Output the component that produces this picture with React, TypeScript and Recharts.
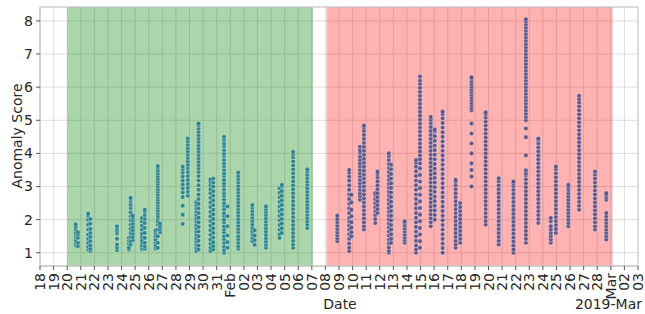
import React from 'react';
import { ScatterChart, Scatter, XAxis, YAxis, CartesianGrid, ReferenceArea } from 'recharts';

// ---------- data ----------
const tickLabels = ['18','19','20','21','22','23','24','25','26','27','28','29','30','31','Feb','02','03','04','05','06','07','08','09','10','11','12','13','14','15','16','17','18','19','20','21','22','23','24','25','26','27','28','Mar','02','03'];
const yTicks = [1, 2, 3, 4, 5, 6, 7, 8];

const normalRange = ['01-20 00', '02-07 02'];
const anomalyRange = ['02-08 02', '03-01 03'];

const normalTimes = [
  '01-20 15','01-20 19','01-21 13','01-21 17','01-23 16','01-24 13','01-24 16','01-24 20',
  '01-25 12','01-25 17','01-26 12','01-26 16','01-26 20','01-28 12','01-28 21','01-29 12',
  '01-29 16','01-30 13','01-30 18','01-31 13','01-31 19','02-01 14','02-02 15','02-02 19',
  '02-03 15','02-04 15','02-04 19','02-05 15','02-06 16',
];
const normalScores: number[][] = [
  [1.22,1.27,1.33,1.4,1.47,1.52,1.57,1.62,1.7,1.78,1.86],
  [1.2,1.3,1.45,1.55,1.62],
  [1.1,1.18,1.3,1.42,1.55,1.7,1.85,2.0,2.12,2.18],
  [1.05,1.12,1.22,1.35,1.48,1.6,1.72,1.88,2.02],
  [1.08,1.16,1.25,1.42,1.58,1.65,1.72,1.8],
  [1.1,1.16,1.28,1.37,1.45],
  [1.25,1.35,1.48,1.6,1.72,1.85,1.98,2.1,2.22,2.35,2.45,2.55,2.62,2.66],
  [1.38,1.48,1.58,1.68,1.78,1.88,1.98,2.06,2.12],
  [1.1,1.16,1.22,1.3,1.38,1.48,1.58,1.7,1.82,1.95,2.05],
  [1.12,1.2,1.3,1.45,1.6,1.75,1.9,2.02,2.14,2.24,2.3],
  [1.12,1.18,1.24,1.32,1.4,1.5,1.6,1.68],
  [1.15,1.3,1.5,1.7,1.85,1.95,2.05,2.12,2.2,2.28,2.36,2.44,2.52,2.6,2.68,2.76,2.84,2.92,3.0,3.08,3.16,3.24,3.32,3.4,3.48,3.56,3.62],
  [1.62,1.72,1.8,1.88],
  [1.87,2.15,2.42,2.68,2.82,2.94,3.06,3.18,3.3,3.42,3.52,3.6],
  [2.72,2.84,2.96,3.08,3.2,3.32,3.44,3.56,3.66,3.76,3.86,3.96,4.06,4.16,4.26,4.36,4.45],
  [1.05,1.14,1.24,1.34,1.44,1.54,1.64,1.74,1.84,1.94,2.04,2.14,2.24,2.34,2.44,2.52],
  [1.1,1.22,1.36,1.5,1.64,1.78,1.92,2.06,2.2,2.34,2.48,2.62,2.76,2.9,3.04,3.18,3.32,3.44,3.55,3.65,3.75,3.85,3.95,4.05,4.15,4.25,4.35,4.45,4.55,4.65,4.75,4.84,4.9],
  [1.05,1.15,1.27,1.4,1.54,1.68,1.82,1.96,2.1,2.24,2.38,2.52,2.66,2.8,2.92,3.04,3.14,3.22],
  [1.1,1.2,1.32,1.46,1.6,1.74,1.88,2.02,2.16,2.3,2.44,2.58,2.72,2.86,3.0,3.12,3.24],
  [1.0,1.08,1.18,1.3,1.41,1.5,1.62,1.71,1.8,1.92,2.0,2.12,2.2,2.31,2.42,2.5,2.61,2.72,2.8,2.9,3.02,3.1,3.2,3.32,3.4,3.5,3.61,3.7,3.8,3.92,4.0,4.1,4.22,4.3,4.41,4.5],
  [1.15,1.32,1.52,1.8,2.1,2.4],
  [1.12,1.2,1.3,1.41,1.5,1.62,1.72,1.82,1.92,2.02,2.12,2.22,2.32,2.42,2.52,2.62,2.72,2.82,2.92,3.02,3.12,3.22,3.32,3.42],
  [1.35,1.45,1.55,1.65,1.75,1.86,1.96,2.06,2.16,2.26,2.36,2.44],
  [1.24,1.38,1.52,1.68],
  [1.15,1.24,1.34,1.44,1.54,1.64,1.74,1.84,1.94,2.04,2.14,2.24,2.32,2.4],
  [1.45,1.56,1.7,1.84,1.98,2.12,2.26,2.4,2.54,2.68,2.82,2.95],
  [1.6,1.74,1.88,2.02,2.16,2.3,2.44,2.58,2.72,2.86,3.0,3.05],
  [1.15,1.25,1.36,1.48,1.6,1.72,1.84,1.96,2.08,2.2,2.32,2.44,2.56,2.68,2.8,2.92,3.04,3.16,3.28,3.4,3.52,3.64,3.76,3.88,3.98,4.05],
  [1.75,1.85,1.95,2.05,2.15,2.25,2.35,2.45,2.55,2.65,2.75,2.85,2.95,3.05,3.15,3.25,3.35,3.45,3.52],
];

const anomalyTimes = [
  '02-08 21','02-09 18','02-09 22','02-10 13','02-10 20','02-11 16','02-11 20','02-12 16',
  '02-12 20','02-13 20','02-14 16','02-14 23','02-15 18','02-16 01','02-16 15','02-17 14',
  '02-17 22','02-18 18','02-19 19','02-20 18','02-21 20','02-22 18','02-23 16','02-24 14',
  '02-24 23','02-25 21','02-26 16','02-27 20','02-28 16',
];
const anomalyScores: number[][] = [
  [1.35,1.44,1.53,1.62,1.72,1.82,1.92,2.02,2.12],
  [1.05,1.15,1.28,1.42,1.56,1.7,1.82,1.94,2.06,2.2,2.34,2.48,2.62,2.76,2.9,3.04,3.18,3.3,3.42,3.5],
  [1.5,1.62,1.76,1.92,2.1,2.3,2.52,2.75],
  [2.6,2.71,2.8,2.9,3.01,3.1,3.2,3.31,3.4,3.5,3.61,3.7,3.8,3.9,4.02,4.1,4.2],
  [1.7,1.8,1.92,2.04,2.16,2.28,2.4,2.52,2.64,2.76,2.88,3.0,3.12,3.24,3.36,3.48,3.6,3.72,3.84,3.96,4.08,4.2,4.32,4.44,4.56,4.68,4.78,4.84],
  [1.9,2.02,2.14,2.26,2.38,2.5,2.62,2.74,2.8],
  [2.2,2.32,2.44,2.56,2.68,2.8,2.92,3.04,3.16,3.28,3.38,3.45],
  [1.0,1.06,1.16,1.28,1.4,1.52,1.64,1.76,1.88,2.0,2.12,2.24,2.36,2.48,2.6,2.72,2.84,2.96,3.08,3.2,3.32,3.44,3.56,3.68,3.8,3.92,4.0],
  [1.3,1.42,1.56,1.7,1.84,1.98,2.12,2.26,2.4,2.54,2.68,2.82,2.96,3.1,3.24,3.38,3.52,3.66],
  [1.3,1.38,1.46,1.55,1.64,1.73,1.82,1.9,1.95],
  [1.0,1.1,1.22,1.36,1.5,1.64,1.78,1.92,2.06,2.2,2.34,2.48,2.62,2.76,2.9,3.04,3.18,3.32,3.46,3.6,3.72,3.8],
  [1.15,1.35,1.55,1.75,1.95,2.15,2.35,2.55,2.75,2.95,3.15,3.35,3.55,3.7,3.82,3.94,4.06,4.18,4.3,4.42,4.54,4.66,4.78,4.9,5.02,5.14,5.26,5.38,5.5,5.62,5.74,5.86,5.98,6.1,6.2,6.32],
  [1.8,1.92,2.04,2.16,2.28,2.4,2.52,2.64,2.76,2.88,3.0,3.12,3.24,3.36,3.48,3.6,3.72,3.84,3.96,4.08,4.2,4.32,4.44,4.56,4.68,4.8,4.92,5.02,5.1],
  [2.0,2.14,2.28,2.42,2.56,2.7,2.84,2.98,3.12,3.26,3.4,3.54,3.68,3.82,3.96,4.1,4.24,4.38,4.52,4.66,4.72],
  [1.0,1.14,1.28,1.42,1.56,1.7,1.84,1.98,2.12,2.26,2.4,2.54,2.68,2.82,2.96,3.1,3.24,3.38,3.52,3.66,3.8,3.94,4.08,4.22,4.36,4.5,4.64,4.78,4.92,5.06,5.18,5.26],
  [1.15,1.25,1.36,1.48,1.6,1.72,1.84,1.96,2.08,2.2,2.32,2.44,2.56,2.68,2.8,2.92,3.04,3.14,3.2],
  [1.3,1.42,1.54,1.66,1.78,1.9,2.02,2.14,2.26,2.38,2.5],
  [3.0,3.3,3.5,3.7,4.0,4.3,4.6,4.9,5.3,5.38,5.46,5.54,5.62,5.7,5.78,5.86,5.94,6.02,6.1,6.18,6.26,6.3],
  [1.85,1.96,2.08,2.2,2.32,2.44,2.56,2.68,2.8,2.92,3.04,3.16,3.28,3.4,3.52,3.64,3.76,3.88,4.0,4.12,4.24,4.36,4.48,4.6,4.72,4.84,4.96,5.08,5.18,5.24],
  [1.25,1.36,1.48,1.6,1.72,1.84,1.96,2.08,2.2,2.32,2.44,2.56,2.68,2.8,2.92,3.04,3.16,3.25],
  [1.0,1.1,1.22,1.34,1.46,1.58,1.7,1.82,1.94,2.06,2.18,2.3,2.42,2.54,2.66,2.78,2.9,3.02,3.1,3.15],
  [1.3,1.42,1.54,1.66,1.78,1.9,2.02,2.14,2.26,2.38,2.5,2.62,2.74,2.86,2.98,3.1,3.22,3.34,3.4,3.49,3.94,4.49,4.75,5.0,5.1,5.2,5.3,5.4,5.5,5.6,5.7,5.8,5.9,6.0,6.1,6.2,6.3,6.4,6.5,6.6,6.7,6.8,6.9,7.0,7.1,7.2,7.3,7.4,7.5,7.6,7.7,7.8,7.9,7.98,8.05],
  [1.9,2.02,2.14,2.26,2.38,2.5,2.62,2.74,2.86,2.98,3.1,3.22,3.34,3.46,3.58,3.7,3.82,3.94,4.06,4.18,4.3,4.4,4.45],
  [1.3,1.4,1.5,1.6,1.7,1.8,1.95,2.05],
  [1.6,1.72,1.84,1.96,2.08,2.2,2.32,2.44,2.56,2.68,2.8,2.92,3.04,3.16,3.28,3.4,3.52,3.6],
  [1.8,1.9,2.0,2.1,2.2,2.3,2.4,2.5,2.6,2.7,2.8,2.9,2.98,3.05],
  [2.3,2.42,2.54,2.66,2.78,2.9,3.02,3.14,3.26,3.38,3.5,3.62,3.74,3.86,3.98,4.1,4.22,4.34,4.46,4.58,4.7,4.82,4.94,5.06,5.18,5.3,5.42,5.54,5.64,5.74],
  [1.7,1.8,1.92,2.04,2.16,2.28,2.4,2.52,2.64,2.76,2.88,3.0,3.12,3.24,3.36,3.45],
  [1.4,1.5,1.6,1.7,1.8,1.9,2.0,2.1,2.2,2.6,2.68,2.75,2.8],
];

// ---------- helpers ----------
const parseTime = (s: string) => {
  const [md, h] = s.split(' ');
  const [m, d] = md.split('-').map(Number);
  return Date.UTC(2019, m - 1, d, Number(h));
};
const DAY = 86400000;
const startTime = Date.UTC(2019, 0, 18);
const endTime = Date.UTC(2019, 2, 3);
const tickTimes = tickLabels.map((_, i) => startTime + i * DAY);
const labelByTime = new Map(tickTimes.map((tt, i) => [tt, tickLabels[i]]));

const build = (times: string[], scores: number[][]) =>
  times.flatMap((tm, i) => scores[i].map((v) => ({ x: parseTime(tm), y: v })));

const normalData = build(normalTimes, normalScores);
const anomalyData = build(anomalyTimes, anomalyScores);

const FONT = 'DejaVu Sans, sans-serif';
const TEXT = '#262626';

const RotTick = (props: any) => {
  const { x, y, payload } = props;
  const label = labelByTime.get(payload.value) ?? '';
  return (
    <text
      transform={`translate(${x},${y + 1}) rotate(-90)`}
      textAnchor="end"
      dominantBaseline="central"
      fontSize={14}
      fontFamily={FONT}
      fill={TEXT}
    >
      {label}
    </text>
  );
};

const makeDot = (color: string) => (p: any) => (
  <circle cx={p.cx} cy={p.cy} r={2.3} fill={color} fillOpacity={0.88} stroke="#ffffff" strokeOpacity={0.6} strokeWidth={0.6} />
);

export default function App() {
  return (
    <div style={{ position: 'fixed', left: 0, top: 0, width: 645, height: 314, background: '#fff' }}>
      <ScatterChart width={645} height={314} margin={{ top: 7, right: 7, bottom: 0, left: 0 }}>
        <CartesianGrid stroke="#d6d6d6" strokeWidth={0.8} />
        <ReferenceArea x1={parseTime(normalRange[0])} x2={parseTime(normalRange[1])} fill="#008000" fillOpacity={0.33} stroke="none" />
        <ReferenceArea x1={parseTime(anomalyRange[0])} x2={parseTime(anomalyRange[1])} fill="#ff0000" fillOpacity={0.3} stroke="none" />
        <XAxis
          type="number"
          dataKey="x"
          domain={[startTime, endTime]}
          ticks={tickTimes}
          interval={0}
          allowDataOverflow
          height={48}
          stroke="#c8c8c8"
          tickSize={4}
          tickMargin={2}
          tickLine={{ stroke: '#555' }}
          tick={<RotTick />}
        />
        <YAxis
          type="number"
          dataKey="y"
          domain={[0.6, 8.42]}
          ticks={yTicks}
          interval={0}
          allowDataOverflow
          width={40}
          stroke="#c8c8c8"
          tickSize={4}
          tickMargin={3}
          tickLine={{ stroke: '#555' }}
          tick={{ fontSize: 14, fill: TEXT, fontFamily: FONT }}
        />
        <ReferenceArea x1={startTime} x2={endTime} y1={0.6} y2={8.42} fill="none" stroke="#c8c8c8" />
        <Scatter data={normalData} shape={makeDot('#1a7c86')} isAnimationActive={false} />
        <Scatter data={anomalyData} shape={makeDot('#4d4a82')} isAnimationActive={false} />
      </ScatterChart>
      <svg width={645} height={314} style={{ position: 'absolute', left: 0, top: 0, pointerEvents: 'none' }}>
        <text x={340} y={309} textAnchor="middle" fontSize={14} fontFamily={FONT} fill={TEXT}>Date</text>
        <text x={642} y={309} textAnchor="end" fontSize={14} fontFamily={FONT} fill={TEXT}>2019-Mar</text>
        <text transform="translate(22,136) rotate(-90)" textAnchor="middle" fontSize={14} fontFamily={FONT} fill={TEXT}>Anomaly Score</text>
      </svg>
    </div>
  );
}
